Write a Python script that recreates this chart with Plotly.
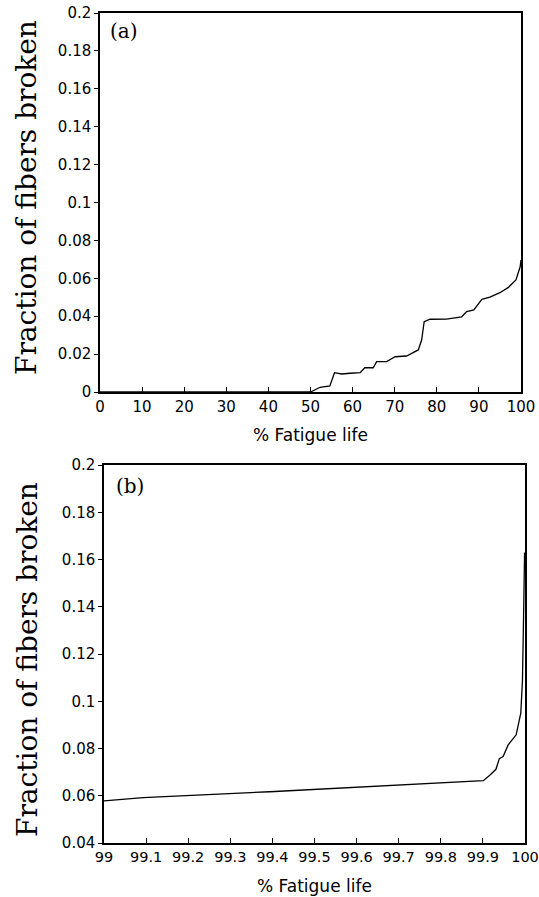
import plotly.graph_objects as go

# Panel (a): fraction of fibers broken over the whole fatigue life
life_a = [0, 50, 52.3, 54.6, 55.7, 57.4, 59.4, 61.8, 62.9, 64.9, 65.7, 68.1, 70.1,
          72.8, 75.6, 76.4, 77.0, 78.4, 82.3, 85.9, 87.1, 88.8, 90.7, 92.6, 95.0,
          97.0, 98.8, 99.8, 100]
frac_a = [0, 0, 0.0025, 0.0032, 0.0102, 0.0095, 0.0099, 0.0102, 0.0128, 0.0128,
          0.016, 0.016, 0.0186, 0.019, 0.0222, 0.0274, 0.0371, 0.0384, 0.0385,
          0.0397, 0.0424, 0.0433, 0.0489, 0.0501, 0.0524, 0.0552, 0.0591, 0.0661,
          0.0697]

# Panel (b): the last 1% of fatigue life
life_b = [99.0, 99.093, 99.394, 99.632, 99.901, 99.917, 99.931, 99.939, 99.948,
          99.960, 99.979, 99.990, 99.994, 99.997, 99.999]
frac_b = [0.0578, 0.0592, 0.0617, 0.0639, 0.0664, 0.0688, 0.0712, 0.0757, 0.0766,
          0.0815, 0.0858, 0.0950, 0.109, 0.140, 0.163]

xticks_a = [0, 10, 20, 30, 40, 50, 60, 70, 80, 90, 100]
xtick_text_a = ["0", "10", "20", "30", "40", "50", "60", "70", "80", "90", "100"]
yticks_a = [0, 0.02, 0.04, 0.06, 0.08, 0.1, 0.12, 0.14, 0.16, 0.18, 0.2]
ytick_text_a = ["0", "0.02", "0.04", "0.06", "0.08", "0.1", "0.12", "0.14",
                "0.16", "0.18", "0.2"]

xticks_b = [99, 99.1, 99.2, 99.3, 99.4, 99.5, 99.6, 99.7, 99.8, 99.9, 100]
xtick_text_b = ["99", "99.1", "99.2", "99.3", "99.4", "99.5", "99.6", "99.7",
                "99.8", "99.9", "100"]
yticks_b = [0.04, 0.06, 0.08, 0.1, 0.12, 0.14, 0.16, 0.18, 0.2]
ytick_text_b = ["0.04", "0.06", "0.08", "0.1", "0.12", "0.14", "0.16", "0.18", "0.2"]

W, H = 539, 897
tick_font = dict(family="DejaVu Sans", size=15, color="black")
small_tick_font = dict(family="DejaVu Sans", size=14.5, color="black")
title_font = dict(family="DejaVu Serif", size=28, color="black")
label_font = dict(family="DejaVu Sans", size=17, color="black")
panel_font = dict(family="DejaVu Serif", size=20, color="black")

fig = go.Figure()
fig.add_trace(go.Scatter(x=life_a, y=frac_a, mode="lines",
                         line=dict(color="black", width=1.3),
                         xaxis="x", yaxis="y", showlegend=False))
fig.add_trace(go.Scatter(x=life_b, y=frac_b, mode="lines",
                         line=dict(color="black", width=1.3),
                         xaxis="x2", yaxis="y2", showlegend=False))

common_x = dict(showgrid=False, zeroline=False, showline=True, linecolor="black",
                linewidth=1.5, mirror=True, ticks="inside", ticklen=5,
                tickcolor="black", automargin=False)
common_y = dict(showgrid=False, zeroline=False, showline=True, linecolor="black",
                linewidth=1.5, mirror=True, ticks="outside", ticklen=4,
                tickcolor="black", tickfont=tick_font, automargin=False)

fig.update_layout(
    width=W, height=H,
    margin=dict(l=0, r=0, t=0, b=0),
    paper_bgcolor="white", plot_bgcolor="white",
    xaxis=dict(domain=[100 / W, 521 / W], anchor="y", range=[0, 100],
               tickvals=xticks_a, ticktext=xtick_text_a, tickfont=tick_font,
               **common_x),
    yaxis=dict(domain=[1 - 392 / H, 1 - 13 / H], anchor="x", range=[0, 0.2],
               tickvals=yticks_a, ticktext=ytick_text_a, **common_y),
    xaxis2=dict(domain=[104 / W, 525 / W], anchor="y2", range=[99, 100],
                tickvals=xticks_b, ticktext=xtick_text_b, tickfont=small_tick_font,
                **common_x),
    yaxis2=dict(domain=[1 - 843 / H, 1 - 465 / H], anchor="x2", range=[0.04, 0.2],
                tickvals=yticks_b, ticktext=ytick_text_b, **common_y),
)


def note(text, px, py, font, angle=0):
    return dict(text=text, x=px / W, y=1 - py / H, xref="paper", yref="paper",
                xanchor="center", yanchor="middle", textangle=angle,
                showarrow=False, font=font)


fig.update_layout(annotations=[
    note("% Fatigue life", 310, 435, label_font),
    note("% Fatigue life", 314, 886, label_font),
    note("Fraction of fibers broken", 27, 198, title_font, -90),
    note("Fraction of fibers broken", 27, 660, title_font, -90),
    note("(a)", 124, 31, panel_font),
    note("(b)", 130, 486, panel_font),
])

fig.write_html("out.html")
